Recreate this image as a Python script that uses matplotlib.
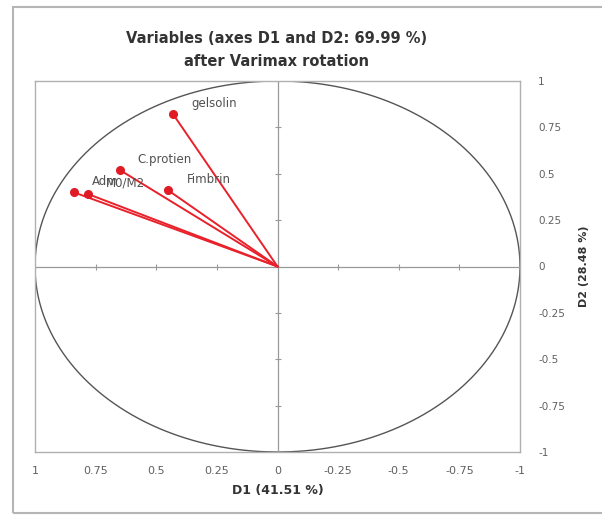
import numpy as np
import matplotlib
matplotlib.use("Agg")
import matplotlib.pyplot as plt
from matplotlib.patches import Rectangle

# variable coordinates on D1 / D2 (after Varimax rotation)
names = ["gelsolin", "C.protien", "Fimbrin", "Adm", "M0/M2"]
d1 = [0.43, 0.65, 0.45, 0.84, 0.78]
d2 = [0.82, 0.52, 0.41, 0.40, 0.39]

ticks = [1, 0.75, 0.5, 0.25, 0, -0.25, -0.5, -0.75, -1]
tick_labels = ["1", "0.75", "0.5", "0.25", "0", "-0.25", "-0.5", "-0.75", "-1"]

fig = plt.figure(figsize=(6.02, 5.16), dpi=100)
ax = fig.add_axes([35 / 602, 1 - 452 / 516, 485 / 602, 371 / 516])

# outer frame of the chart
fig.patches.append(Rectangle((13 / 602, 1 - 513 / 516), 600 / 602, 506 / 516,
                             transform=fig.transFigure, fill=False,
                             edgecolor="#b5b5b5", linewidth=1.5))

ax.set_xlim(1, -1)
ax.set_ylim(-1, 1)

# correlation circle
t = np.linspace(0, 2 * np.pi, 400)
ax.plot(np.cos(t), np.sin(t), color="#555555", linewidth=1.0)

# zero axes with small tick marks
ax.axhline(0, color="#999999", linewidth=0.9)
ax.axvline(0, color="#999999", linewidth=0.9)
inner = [v for v in ticks if v != 0]
ax.plot(inner, [0] * len(inner), linestyle="none", marker="|", markersize=5,
        color="#999999", markeredgewidth=0.8)
ax.plot([0] * len(inner), inner, linestyle="none", marker="_", markersize=5,
        color="#999999", markeredgewidth=0.8)

# vectors
for x, y, n in zip(d1, d2, names):
    ax.plot([0, x], [0, y], color="#e8212b", linewidth=1.4)
    ax.plot(x, y, "o", color="#e01b25", markersize=5.5)
    ax.annotate(n, (x, y), xytext=(18, 11), textcoords="offset pixels",
                fontsize=8.5, color="#505050", va="center", ha="left")

ax.set_xticks(ticks)
ax.set_xticklabels(tick_labels)
ax.set_yticks(ticks)
ax.set_yticklabels(tick_labels)
ax.yaxis.tick_right()
ax.tick_params(axis="x", length=0, pad=10, labelsize=8, labelcolor="#606060")
ax.tick_params(axis="y", length=0, pad=13, labelsize=7.5, labelcolor="#606060")
for lbl in ax.get_yticklabels():
    lbl.set_horizontalalignment("left")

for s in ax.spines.values():
    s.set_color("#b0b0b0")
    s.set_linewidth(1.0)

ax.set_xlabel("D1 (41.51 %)", fontsize=9, fontweight="bold", color="#333333", labelpad=6)
fig.text(584 / 602, 1 - 266 / 516, "D2 (28.48 %)", rotation=90, ha="center", va="center",
         fontsize=8, fontweight="bold", color="#333333")

fig.text(277 / 602, 1 - 50 / 516, "Variables (axes D1 and D2: 69.99 %)\nafter Varimax rotation",
         ha="center", va="center", fontsize=10.5, fontweight="bold", color="#333333",
         linespacing=1.6)

fig.savefig("out.png", dpi=100)
